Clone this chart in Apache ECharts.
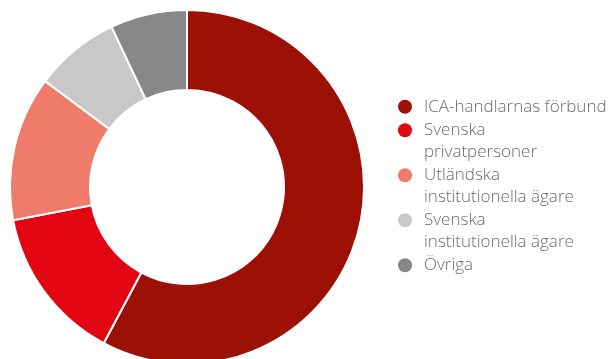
<!DOCTYPE html>
<html>
<head>
<meta charset="utf-8">
<script src="https://cdn.jsdelivr.net/npm/echarts@6/dist/echarts.min.js"></script>
<style>
  html, body { margin: 0; padding: 0; background: #ffffff; }
  #chart { width: 614px; height: 359px; }
</style>
</head>
<body>
<div id="chart"></div>
<script>
// Ägarstruktur (andel av kapitalet, %)
const owners = [
  'ICA-handlarnas förbund',
  'Svenska privatpersoner',
  'Utländska institutionella ägare',
  'Svenska institutionella ägare',
  'Övriga'
];
// Legend text, broken into lines
const legendLines = [
  ['ICA-handlarnas förbund'],
  ['Svenska', 'privatpersoner'],
  ['Utländska', 'institutionella ägare'],
  ['Svenska', 'institutionella ägare'],
  ['Övriga']
];
const shares = [57.8, 14.2, 13.2, 7.8, 7.0];
const colors = ['#9c1006', '#e20613', '#ef7b6b', '#c8c8c8', '#878787'];

const chart = echarts.init(document.getElementById('chart'), null, { renderer: 'canvas' });

const textColor = '#6b6b6b';
const lineH = 21.5;

function richFor(color) {
  return {
    dot: { width: 14, height: 14, borderRadius: 7, backgroundColor: color, lineHeight: lineH },
    g: { width: 12, lineHeight: lineH },
    ind: { width: 26, lineHeight: lineH },
    t: { color: textColor, fontSize: 17, fontFamily: 'Open Sans', fontWeight: 300, lineHeight: lineH }
  };
}

const legendData = owners.map((name, i) => ({
  name: name,
  textStyle: { rich: richFor(colors[i]) }
}));

chart.setOption({
  animation: false,
  color: colors,
  legend: {
    orient: 'vertical',
    left: 393,
    top: 96,
    padding: 0,
    itemGap: 2,
    itemWidth: 0,
    itemHeight: 0,
    icon: 'none',
    selectedMode: false,
    data: legendData,
    formatter: function (name) {
      const lines = legendLines[owners.indexOf(name)];
      return lines.map((l, k) => (k === 0 ? '{dot|}{g|}' : '{ind|}') + '{t|' + l + '}').join('\n');
    },
    textStyle: { color: textColor, fontSize: 17, fontFamily: 'Open Sans', lineHeight: lineH }
  },
  series: [{
    type: 'pie',
    center: [187, 187],
    radius: [97, 177],
    startAngle: 90,
    clockwise: true,
    label: { show: false },
    labelLine: { show: false },
    emphasis: { disabled: true },
    itemStyle: { borderColor: '#ffffff', borderWidth: 2 },
    data: owners.map((name, i) => ({ name: name, value: shares[i] }))
  }]
});
</script>
</body>
</html>
